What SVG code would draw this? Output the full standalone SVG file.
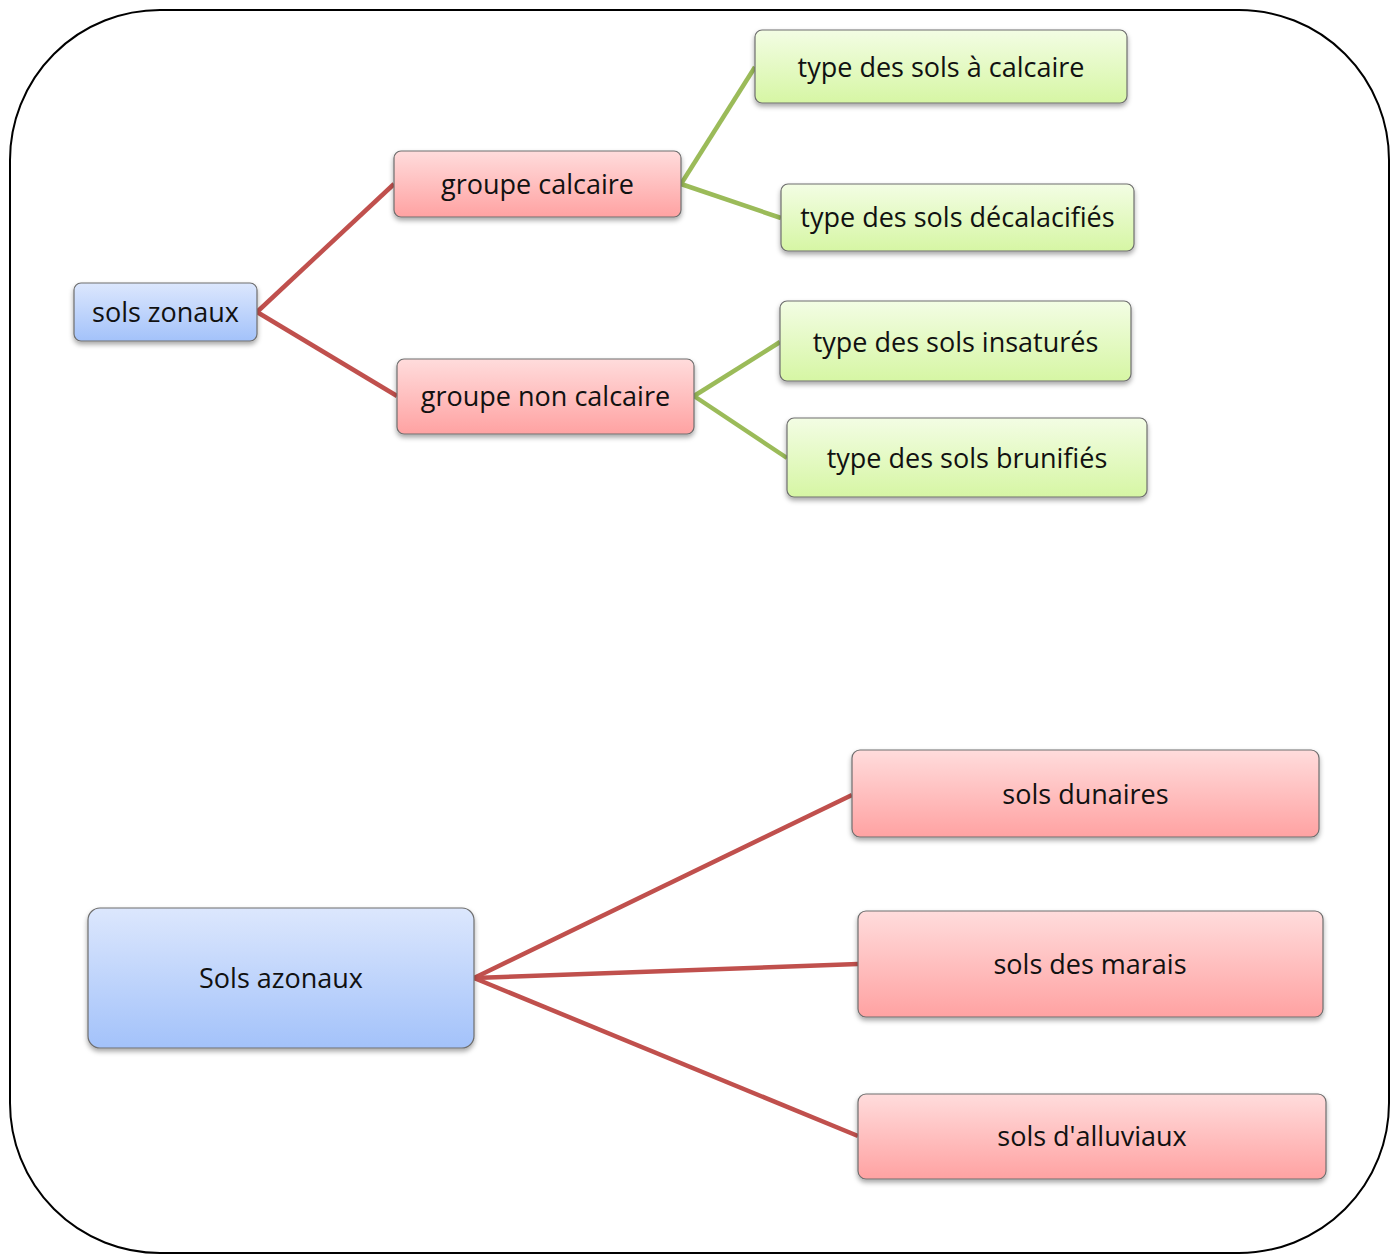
<svg xmlns="http://www.w3.org/2000/svg" width="1396" height="1254" viewBox="0 0 1396 1254">
<defs>
<linearGradient id="gb" x1="0" y1="0" x2="0" y2="1"><stop offset="0" stop-color="#DCE7FD"/><stop offset="1" stop-color="#A3C2FA"/></linearGradient>
<linearGradient id="gr" x1="0" y1="0" x2="0" y2="1"><stop offset="0" stop-color="#FFDCDC"/><stop offset="1" stop-color="#FFA2A2"/></linearGradient>
<linearGradient id="gg" x1="0" y1="0" x2="0" y2="1"><stop offset="0" stop-color="#F3FDE4"/><stop offset="1" stop-color="#D6F6A4"/></linearGradient>
<filter id="sh" x="-10%" y="-20%" width="120%" height="150%"><feDropShadow dx="0" dy="3" stdDeviation="2.5" flood-color="#000" flood-opacity="0.35"/></filter>
</defs>
<style>
.n{stroke:#6E6E6E;stroke-width:1.2;filter:url(#sh)}
.b{fill:url(#gb)}.r{fill:url(#gr)}.g{fill:url(#gg)}
text{font-family:"Open Sans","Liberation Sans",sans-serif;font-size:27px;fill:#111;text-anchor:middle;dominant-baseline:central}
.cr{stroke:#C0504D;stroke-width:4.5;fill:none}
.cg{stroke:#9BBB59;stroke-width:4.5;fill:none}
</style>
<rect x="10" y="10" width="1379" height="1243" rx="150" ry="150" fill="#fff" stroke="#000" stroke-width="2"/>
<g id="connectors">
<line class="cr" x1="257" y1="312" x2="394" y2="184"/>
<line class="cr" x1="257" y1="312" x2="397" y2="396"/>
<line class="cg" x1="681" y1="184" x2="755" y2="67"/>
<line class="cg" x1="681" y1="184" x2="781" y2="218"/>
<line class="cg" x1="694" y1="396" x2="780" y2="342"/>
<line class="cg" x1="694" y1="396" x2="787" y2="458"/>
<line class="cr" x1="474" y1="978" x2="852" y2="795"/>
<line class="cr" x1="474" y1="978" x2="858" y2="964"/>
<line class="cr" x1="474" y1="978" x2="858" y2="1136"/>
</g>
<g id="sols-zonaux"><rect class="n b" x="74" y="283" width="183" height="58" rx="7"/><text x="165.5" y="311">sols zonaux</text></g>
<g id="groupe-calcaire"><rect class="n r" x="394" y="151" width="287" height="66" rx="7"/><text x="537.5" y="183">groupe calcaire</text></g>
<g id="groupe-non-calcaire"><rect class="n r" x="397" y="359" width="297" height="75" rx="7"/><text x="545.5" y="395">groupe non calcaire</text></g>
<g id="type-calcaire"><rect class="n g" x="755" y="30" width="372" height="73" rx="7"/><text x="941" y="66">type des sols à calcaire</text></g>
<g id="type-decalacifies"><rect class="n g" x="781" y="184" width="353" height="67" rx="7"/><text x="957.5" y="216">type des sols décalacifiés</text></g>
<g id="type-insatures"><rect class="n g" x="780" y="301" width="351" height="80" rx="7"/><text x="955.5" y="341">type des sols insaturés</text></g>
<g id="type-brunifies"><rect class="n g" x="787" y="418" width="360" height="79" rx="7"/><text x="967" y="457">type des sols brunifiés</text></g>
<g id="sols-azonaux"><rect class="n b" x="88" y="908" width="386" height="140" rx="12"/><text x="281" y="977">Sols azonaux</text></g>
<g id="sols-dunaires"><rect class="n r" x="852" y="750" width="467" height="87" rx="8"/><text x="1085.5" y="793">sols dunaires</text></g>
<g id="sols-marais"><rect class="n r" x="858" y="911" width="465" height="106" rx="8"/><text x="1090" y="963">sols des marais</text></g>
<g id="sols-alluviaux"><rect class="n r" x="858" y="1094" width="468" height="85" rx="8"/><text x="1092" y="1135">sols d'alluviaux</text></g>
</svg>
